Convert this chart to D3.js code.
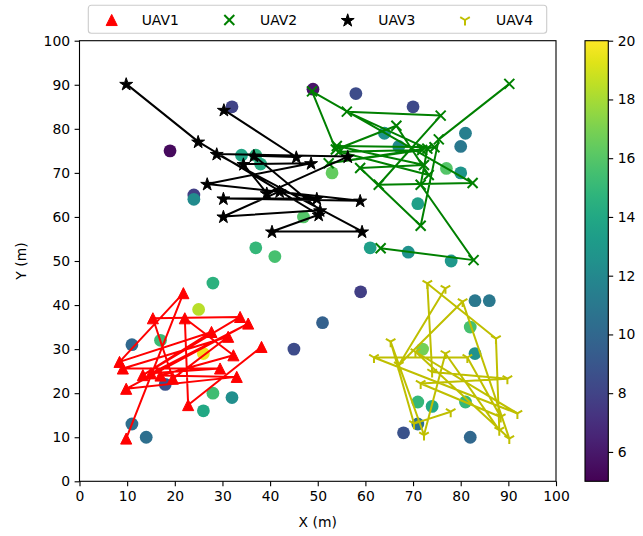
<!DOCTYPE html>
<html>
<head>
<meta charset="utf-8">
<script src="https://cdn.jsdelivr.net/npm/d3@7/dist/d3.min.js"></script>
<style>
  body { margin: 0; background: #fff; }
  text { font-family: "DejaVu Sans", sans-serif; }
</style>
</head>
<body>
<svg id="chart" width="643" height="536"></svg>
<script>
// Target points (x, y) and their weight shown by the colour bar
const targetX = [19, 32, 24, 24, 34, 37, 38, 49, 58, 70, 64, 67, 81, 80, 77, 80, 71, 53, 47, 37, 41, 61, 69, 78, 28, 59, 51, 45, 25, 11, 17, 26, 18, 28, 26, 32, 11, 14, 83, 86, 82, 83, 72, 71, 74, 81, 68, 71, 82];
const targetY = [75, 85, 65, 64, 74, 74, 72, 89, 88, 85, 79, 76, 79, 76, 71, 70, 63, 70, 60, 53, 51, 53, 52, 50, 45, 43, 36, 30, 39, 31, 32, 29, 22, 20, 16, 19, 13, 10, 41, 41, 35, 29, 30, 18, 17, 18, 11, 13, 10];
const targetVal = [5.4, 8.0, 7.8, 12.2, 13.8, 14.6, 14.2, 5.8, 8.4, 8.3, 12.6, 12.0, 11.4, 11.0, 16.0, 12.8, 13.4, 16.4, 16.0, 15.0, 15.6, 13.4, 12.6, 13.0, 14.6, 7.8, 9.6, 8.4, 18.4, 10.0, 15.2, 19.6, 8.8, 15.4, 14.0, 12.4, 10.4, 10.4, 11.0, 11.0, 15.6, 12.6, 16.8, 15.0, 14.0, 15.0, 8.8, 10.6, 10.0];

// Waypoint routes of each UAV, in visiting order
const uav1 = [[9.8,9.7],[21.8,42.7],[8.4,27.1],[27.7,33.9],[13.3,24.1],[33.7,37.3],[15.4,37.0],[19.6,23.3],[31.2,32.8],[9.1,25.6],[29.5,25.6],[15.0,24.5],[35.4,35.8],[9.8,21.0],[33.0,23.7],[17.0,24.0],[32.3,28.6],[22.1,37.0],[22.8,17.3],[38.2,30.5]];
const uav2 = [[90.2,90.2],[75.4,77.6],[71.6,58.0],[58.9,71.1],[72.3,71.8],[54.0,76.1],[74.5,75.8],[52.3,72.2],[71.9,75.2],[54.5,74.8],[73.3,69.5],[66.5,80.7],[53.8,75.3],[48.8,88.5],[82.5,67.7],[62.8,67.3],[75.8,83.0],[56.1,83.9],[73.0,75.5],[71.6,67.3],[82.7,50.2],[63.2,52.9]];
const uav3 = [[9.8,90.2],[24.9,77.1],[50.2,60.5],[40.4,56.7],[59.3,56.7],[28.8,74.3],[56.3,73.7],[39.3,65.4],[34.4,72.0],[48.6,72.2],[26.8,67.5],[58.9,63.7],[30.2,64.2],[49.8,64.2],[42.0,65.8],[30.2,60.1],[50.5,61.5],[36.6,73.9],[45.5,73.6],[30.3,84.3]];
const uav4 = [[76.8,43.8],[67.0,26.4],[80.4,40.8],[90.2,9.7],[70.5,29.4],[91.9,15.4],[61.8,28.1],[81.4,28.1],[88.4,14.6],[71.6,22.2],[89.8,23.3],[74.0,24.8],[73.0,44.9],[87.4,32.4],[88.1,11.6],[76.8,29.0],[72.3,10.5],[65.3,31.7],[70.2,13.1],[77.9,15.8]];

const uavNames = ["UAV1", "UAV2", "UAV3", "UAV4"];
const uavColors = ["#ff0000", "#008000", "#000000", "#bfbf00"];
const uavMarkers = ["triangle", "x", "star", "tri"];
const routes = [uav1, uav2, uav3, uav4];

const axisTicks = [0, 10, 20, 30, 40, 50, 60, 70, 80, 90, 100];
const colorTicks = [6, 8, 10, 12, 14, 16, 18, 20];
const colorDomain = [5, 20];

const svg = d3.select("#chart");
const pL = 79.5, pR = 556, pT = 40.7, pB = 481.3;
const fs = 13.9;

const x = d3.scaleLinear().domain([0, 100]).range([pL, pR]);
const y = d3.scaleLinear().domain([0, 100]).range([pB, pT]);
const cScale = d3.scaleSequential(d3.interpolateViridis).domain(colorDomain);

// Target circles
const plot = svg.append("g");
plot.selectAll("circle.t")
  .data(targetX.map((d, i) => ({ x: d, y: targetY[i], v: targetVal[i] })))
  .join("circle")
  .attr("class", "t")
  .attr("cx", d => x(d.x))
  .attr("cy", d => y(d.y))
  .attr("r", 6.4)
  .attr("fill", d => cScale(d.v));

// Marker drawing helper
const ms = 11.1;
function drawMarker(g, type, color, mx, my) {
  const h = ms / 2;
  if (type === "triangle") {
    g.append("path")
      .attr("d", `M${mx},${my - h}L${mx - h},${my + h}L${mx + h},${my + h}Z`)
      .attr("fill", color).attr("stroke", color).attr("stroke-width", 1);
  } else if (type === "x") {
    const k = h * 0.9;
    g.append("path")
      .attr("d", `M${mx - k},${my - k}L${mx + k},${my + k}M${mx - k},${my + k}L${mx + k},${my - k}`)
      .attr("stroke", color).attr("stroke-width", 2).attr("fill", "none");
  } else if (type === "star") {
    g.append("path")
      .attr("d", d3.symbol().type(d3.symbolStar).size(52)())
      .attr("transform", `translate(${mx},${my + 0.6})`)
      .attr("fill", color).attr("stroke", color).attr("stroke-width", 1);
  } else {
    const a = h * 0.866, b = h * 0.5;
    g.append("path")
      .attr("d", `M${mx},${my}L${mx},${my + h}M${mx},${my}L${mx - a},${my - b}M${mx},${my}L${mx + a},${my - b}`)
      .attr("stroke", color).attr("stroke-width", 2).attr("fill", "none");
  }
}

// Routes: line then markers
const line = d3.line().x(d => x(d[0])).y(d => y(d[1]));
routes.forEach((r, k) => {
  const g = svg.append("g");
  g.append("path")
    .attr("d", line(r))
    .attr("fill", "none")
    .attr("stroke", uavColors[k])
    .attr("stroke-width", 2)
    .attr("stroke-linejoin", "round");
  r.forEach(p => drawMarker(g, uavMarkers[k], uavColors[k], x(p[0]), y(p[1])));
});

// Axes frame
svg.append("rect")
  .attr("x", pL).attr("y", pT)
  .attr("width", pR - pL).attr("height", pB - pT)
  .attr("fill", "none").attr("stroke", "#000").attr("stroke-width", 1.1);

const xAxis = svg.append("g").attr("transform", `translate(0,${pB})`)
  .call(d3.axisBottom(x).tickValues(axisTicks).tickSize(4.9).tickPadding(4.5));
const yAxis = svg.append("g").attr("transform", `translate(${pL},0)`)
  .call(d3.axisLeft(y).tickValues(axisTicks).tickSize(4.9).tickPadding(4.5));
[xAxis, yAxis].forEach(a => {
  a.select(".domain").remove();
  a.selectAll("line").attr("stroke", "#000").attr("stroke-width", 1.1);
  a.selectAll("text").attr("font-size", fs).attr("fill", "#000")
    .style("font-family", "DejaVu Sans, sans-serif");
});

svg.append("text").attr("x", (pL + pR) / 2).attr("y", 527)
  .attr("text-anchor", "middle").attr("font-size", fs).text("X (m)");
svg.append("text").attr("transform", `translate(26,${(pT + pB) / 2}) rotate(-90)`)
  .attr("text-anchor", "middle").attr("font-size", fs).text("Y (m)");

// Colour bar
const cbL = 585, cbR = 608.3;
const cbScale = d3.scaleLinear().domain(colorDomain).range([pB, pT]);
const defs = svg.append("defs");
const grad = defs.append("linearGradient").attr("id", "vir")
  .attr("x1", 0).attr("y1", 1).attr("x2", 0).attr("y2", 0);
d3.range(0, 1.0001, 0.05).forEach(t => {
  grad.append("stop").attr("offset", t).attr("stop-color", d3.interpolateViridis(t));
});
svg.append("rect").attr("x", cbL).attr("y", pT)
  .attr("width", cbR - cbL).attr("height", pB - pT)
  .attr("fill", "url(#vir)").attr("stroke", "#000").attr("stroke-width", 1.1);
const cAxis = svg.append("g").attr("transform", `translate(${cbR},0)`)
  .call(d3.axisRight(cbScale).tickValues(colorTicks).tickSize(4.9).tickPadding(4.5));
cAxis.select(".domain").remove();
cAxis.selectAll("line").attr("stroke", "#000").attr("stroke-width", 1.1);
cAxis.selectAll("text").attr("font-size", fs).attr("fill", "#000")
  .style("font-family", "DejaVu Sans, sans-serif");

// Legend
const lg = svg.append("g");
lg.append("rect").attr("x", 88.3).attr("y", 5.2).attr("width", 458.4).attr("height", 28)
  .attr("rx", 3).attr("fill", "#fff").attr("fill-opacity", 0.8)
  .attr("stroke", "#cccccc").attr("stroke-width", 1.1);
const legMarkX = [111.7, 229.3, 347.7, 465];
const legTextX = [141.7, 260, 378.3, 496];
uavNames.forEach((n, k) => {
  drawMarker(lg, uavMarkers[k], uavColors[k], legMarkX[k], 20);
  lg.append("text").attr("x", legTextX[k]).attr("y", 20).attr("dy", "0.36em")
    .attr("font-size", fs).text(n);
});
</script>
</body>
</html>
